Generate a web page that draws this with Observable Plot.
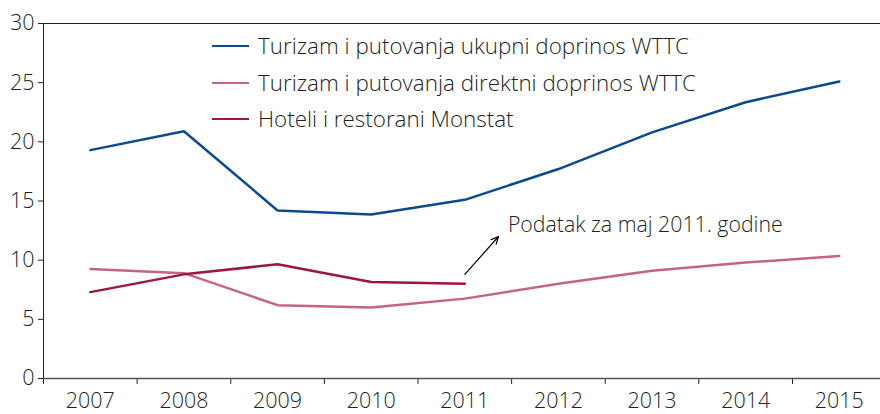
<!DOCTYPE html>
<html>
<head>
<meta charset="utf-8">
<script src="https://cdn.jsdelivr.net/npm/d3@7"></script>
<script src="https://cdn.jsdelivr.net/npm/@observablehq/plot@0.6"></script>
<style>
  html, body { margin: 0; padding: 0; background: #fff; }
  #wrap { position: relative; width: 880px; height: 414px; font-family: "Open Sans", sans-serif; font-weight: 300; color: #231f20; }
  #wrap svg text { font-weight: 300; }
  #legend { position: absolute; left: 212px; top: 28px; font-size: 22.4px; line-height: 36.5px; }
  .row { display: flex; align-items: center; white-space: nowrap; }
  .sw { width: 37px; height: 0; border-top: 2.5px solid; margin-right: 9px; }
</style>
</head>
<body>
<div id="wrap"></div>
<script>
const years = [2007, 2008, 2009, 2010, 2011, 2012, 2013, 2014, 2015];
const ukupni = [19.3, 20.9, 14.2, 13.85, 15.1, 17.7, 20.8, 23.35, 25.1];
const direktni = [9.25, 8.9, 6.2, 6.0, 6.75, 8.0, 9.1, 9.8, 10.35];
const monstatYears = [2007, 2008, 2009, 2010, 2011];
const monstat = [7.3, 8.8, 9.65, 8.15, 8.0];
const seriesNames = [
  "Turizam i putovanja ukupni doprinos WTTC",
  "Turizam i putovanja direktni doprinos WTTC",
  "Hoteli i restorani Monstat"
];
const colors = ["#0d4a8c", "#c46484", "#9b1545"];
const yTicks = [0, 5, 10, 15, 20, 25, 30];
const annotation = "Podatak za maj 2011. godine";

const rows = [];
years.forEach((y, i) => rows.push({year: y, value: ukupni[i], s: seriesNames[0]}));
years.forEach((y, i) => rows.push({year: y, value: direktni[i], s: seriesNames[1]}));
monstatYears.forEach((y, i) => rows.push({year: y, value: monstat[i], s: seriesNames[2]}));

const bounds = years.map(y => y - 0.5);

const chart = Plot.plot({
  width: 880,
  height: 414,
  marginLeft: 43,
  marginRight: 0,
  marginTop: 23,
  marginBottom: 36,
  style: {fontFamily: "Open Sans, sans-serif", fontSize: "21.5px", color: "#231f20", background: "white"},
  x: {domain: [2006.5, 2015.44], ticks: years, tickFormat: d => String(d), tickSize: 0, tickPadding: 14, label: null},
  y: {domain: [0, 30], ticks: yTicks, tickSize: 5, tickPadding: 4, label: null},
  color: {domain: seriesNames, range: colors},
  marks: [
    Plot.ruleY([30], {stroke: "#231f20", strokeWidth: 1}),
    Plot.ruleX(bounds, {x: d => d, y1: 0, y2: -0.5, stroke: "#231f20"}),
    Plot.ruleX([2006.5], {y1: -0.5, y2: 30, stroke: "#231f20"}),
    Plot.ruleY([0], {stroke: "#555", strokeWidth: 1.5}),
    Plot.line(rows, {x: "year", y: "value", z: "s", stroke: "s", strokeWidth: 2.5}),
    Plot.arrow([{x1: 2011, y1: 8.8, x2: 2011.36, y2: 12.0}], {x1: "x1", y1: "y1", x2: "x2", y2: "y2", stroke: "#000", strokeWidth: 1.2, headLength: 10, headAngle: 50}),
    Plot.text([annotation], {x: 2011.46, y: 12.95, text: d => d, textAnchor: "start", fontSize: 21.3, fill: "#231f20"})
  ]
});
const wrap = document.getElementById("wrap");
wrap.appendChild(chart);
const legend = document.createElement("div");
legend.id = "legend";
seriesNames.forEach((n, i) => {
  const r = document.createElement("div");
  r.className = "row";
  const sw = document.createElement("span");
  sw.className = "sw";
  sw.style.borderTopColor = colors[i];
  const t = document.createElement("span");
  t.textContent = n;
  r.appendChild(sw); r.appendChild(t);
  legend.appendChild(r);
});
wrap.appendChild(legend);
</script>
</body>
</html>
